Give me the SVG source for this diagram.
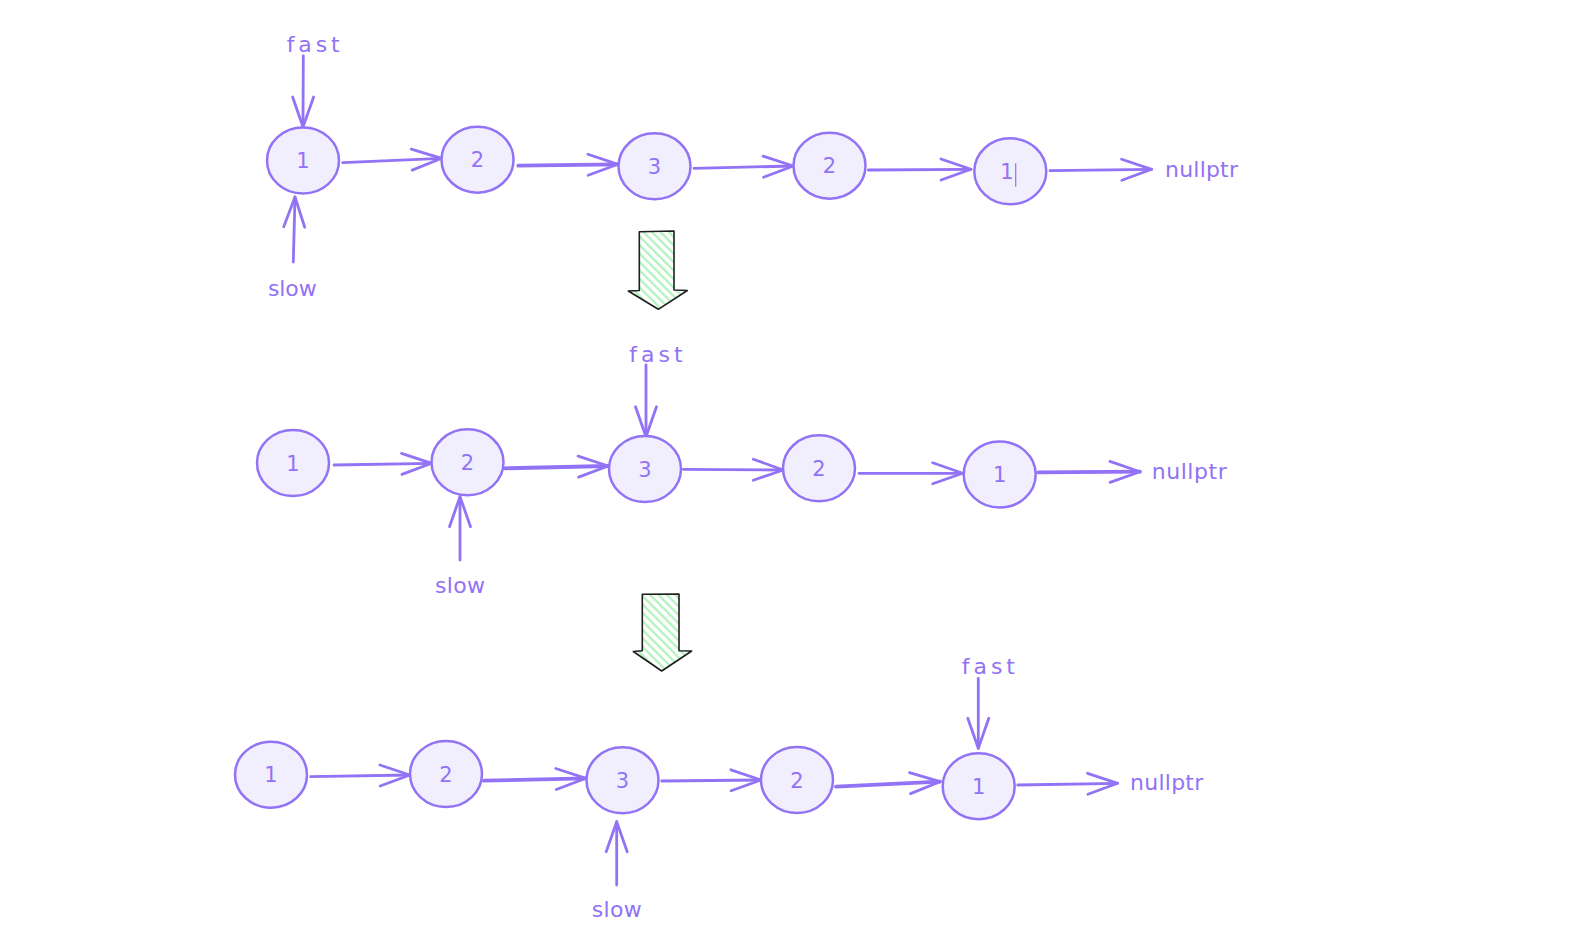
<svg xmlns="http://www.w3.org/2000/svg" width="1582" height="951" viewBox="0 0 1582 951">
  <style>
    .node ellipse { fill: #f1eefe; stroke: #9272f5; stroke-width: 2.5; }
    .node text { font-family: "DejaVu Sans", sans-serif; font-size: 21px; fill: #9272f5; text-anchor: middle; }
    .lbl { font-family: "DejaVu Sans", sans-serif; font-size: 22px; fill: #9272f5; }
    .edge { fill: none; stroke: #9272f5; stroke-width: 2.8; stroke-linecap: round; marker-end: url(#head); }
    .thick { stroke-width: 3.8; }
    .down { fill: url(#hatch); stroke: #1e1e1e; stroke-width: 1.6; stroke-linejoin: round; }
  </style>
  <defs>
    <marker id="head" markerUnits="userSpaceOnUse" viewBox="-34 -14 38 28" markerWidth="38" markerHeight="28" refX="0" refY="0" orient="auto" overflow="visible">
      <path d="M-30,-10.5 L0,0 L-30,10.5" fill="none" stroke="#9272f5" stroke-width="2.8" stroke-linecap="round" stroke-linejoin="round"/>
    </marker>
    <pattern id="hatch" patternUnits="userSpaceOnUse" width="6" height="6" patternTransform="rotate(-45)">
      <rect width="6" height="6" fill="#ffffff"/>
      <line x1="3" y1="0" x2="3" y2="6" stroke="#b2f2bb" stroke-width="2.2"/>
    </pattern>
  </defs>
  <rect width="1582" height="951" fill="#ffffff"/>

  <g id="connectors">
    <!-- row 1 -->
    <path class="edge" d="M342.7,162.7 L441.7,158.3"/>
    <path class="edge thick" d="M518.3,165.7 L618,164.3"/>
    <path class="edge" d="M694,168.3 L793.3,166"/>
    <path class="edge" d="M868.3,170 L971,169.3"/>
    <path class="edge" d="M1050,170.7 L1151.7,169.3"/>
    <path class="edge" d="M303.3,56 L303,127"/>
    <path class="edge" d="M293.3,262 L295,197"/>
    <!-- row 2 -->
    <path class="edge" d="M334,465 L431.7,463.3"/>
    <path class="edge thick" d="M505,468.3 L608.3,466"/>
    <path class="edge" d="M683.3,469.3 L783.3,470"/>
    <path class="edge" d="M859,473.3 L962.7,473.3"/>
    <path class="edge thick" d="M1038.3,472.3 L1140,471.7"/>
    <path class="edge" d="M646,365 L646,436.7"/>
    <path class="edge" d="M460,560 L460,496.7"/>
    <!-- row 3 -->
    <path class="edge" d="M310.7,776.7 L410,775"/>
    <path class="edge thick" d="M484,780.7 L586,778.3"/>
    <path class="edge" d="M661.7,781 L761,780"/>
    <path class="edge thick" d="M836,786.7 L940,781.7"/>
    <path class="edge" d="M1017.7,785 L1117.7,783.3"/>
    <path class="edge" d="M978.3,678.3 L978.3,748.3"/>
    <path class="edge" d="M616.7,885 L616.7,821.7"/>
  </g>

  <!-- row 1 nodes -->
  <g id="r1n1" class="node"><ellipse cx="303" cy="160.5" rx="36" ry="33"/><text x="303" y="168">1</text></g>
  <g id="r1n2" class="node"><ellipse cx="477.5" cy="159.7" rx="36" ry="33"/><text x="477.5" y="167">2</text></g>
  <g id="r1n3" class="node"><ellipse cx="654.5" cy="166.3" rx="36" ry="33"/><text x="654.5" y="174">3</text></g>
  <g id="r1n4" class="node"><ellipse cx="829.5" cy="165.7" rx="36" ry="33"/><text x="829.5" y="173">2</text></g>
  <g id="r1n5" class="node"><ellipse cx="1010.3" cy="171.3" rx="36" ry="33"/><text x="1007" y="179">1</text><line x1="1015.7" y1="163.3" x2="1015.7" y2="186.7" stroke="#9272f5" stroke-width="1.2"/></g>

  <!-- row 2 nodes -->
  <g id="r2n1" class="node"><ellipse cx="293" cy="463" rx="36" ry="33"/><text x="293" y="470.5">1</text></g>
  <g id="r2n2" class="node"><ellipse cx="467.5" cy="462.3" rx="36" ry="33"/><text x="467.5" y="469.5">2</text></g>
  <g id="r2n3" class="node"><ellipse cx="645" cy="469" rx="36" ry="33"/><text x="645" y="476.5">3</text></g>
  <g id="r2n4" class="node"><ellipse cx="819" cy="468.3" rx="36" ry="33"/><text x="819" y="475.5">2</text></g>
  <g id="r2n5" class="node"><ellipse cx="999.7" cy="474.5" rx="36" ry="33"/><text x="999.7" y="482">1</text></g>

  <!-- row 3 nodes -->
  <g id="r3n1" class="node"><ellipse cx="271" cy="774.7" rx="36" ry="33"/><text x="271" y="782">1</text></g>
  <g id="r3n2" class="node"><ellipse cx="446" cy="774" rx="36" ry="33"/><text x="446" y="781.5">2</text></g>
  <g id="r3n3" class="node"><ellipse cx="622.5" cy="780.3" rx="36" ry="33"/><text x="622.5" y="788">3</text></g>
  <g id="r3n4" class="node"><ellipse cx="797" cy="780" rx="36" ry="33"/><text x="797" y="787.5">2</text></g>
  <g id="r3n5" class="node"><ellipse cx="978.7" cy="786.2" rx="36" ry="33"/><text x="978.7" y="793.5">1</text></g>

  <!-- labels -->
  <g id="labels">
    <text class="lbl" x="286.7" y="52" textLength="53" lengthAdjust="spacing">fast</text>
    <text class="lbl" x="268" y="295.7" textLength="48.7" lengthAdjust="spacing">slow</text>
    <text class="lbl" x="1165" y="176.7" textLength="73" lengthAdjust="spacing">nullptr</text>
    <text class="lbl" x="629.3" y="361.7" textLength="53.4" lengthAdjust="spacing">fast</text>
    <text class="lbl" x="435" y="593" textLength="50" lengthAdjust="spacing">slow</text>
    <text class="lbl" x="1151.7" y="479.3" textLength="75" lengthAdjust="spacing">nullptr</text>
    <text class="lbl" x="961.7" y="674.3" textLength="53.3" lengthAdjust="spacing">fast</text>
    <text class="lbl" x="591.7" y="917" textLength="50" lengthAdjust="spacing">slow</text>
    <text class="lbl" x="1130" y="790" textLength="73.3" lengthAdjust="spacing">nullptr</text>
  </g>

  <!-- step arrows -->
  <g id="step1"><polygon class="down" points="639.3,231.7 674,231 674,290 687.3,290.5 658.3,309.3 628.3,291 639.3,290.5"/></g>
  <g id="step2"><polygon class="down" points="642.3,594.3 679,594 679,650.7 691.7,651 661.7,671 633.3,651.5 642.3,650.7"/></g>
</svg>
